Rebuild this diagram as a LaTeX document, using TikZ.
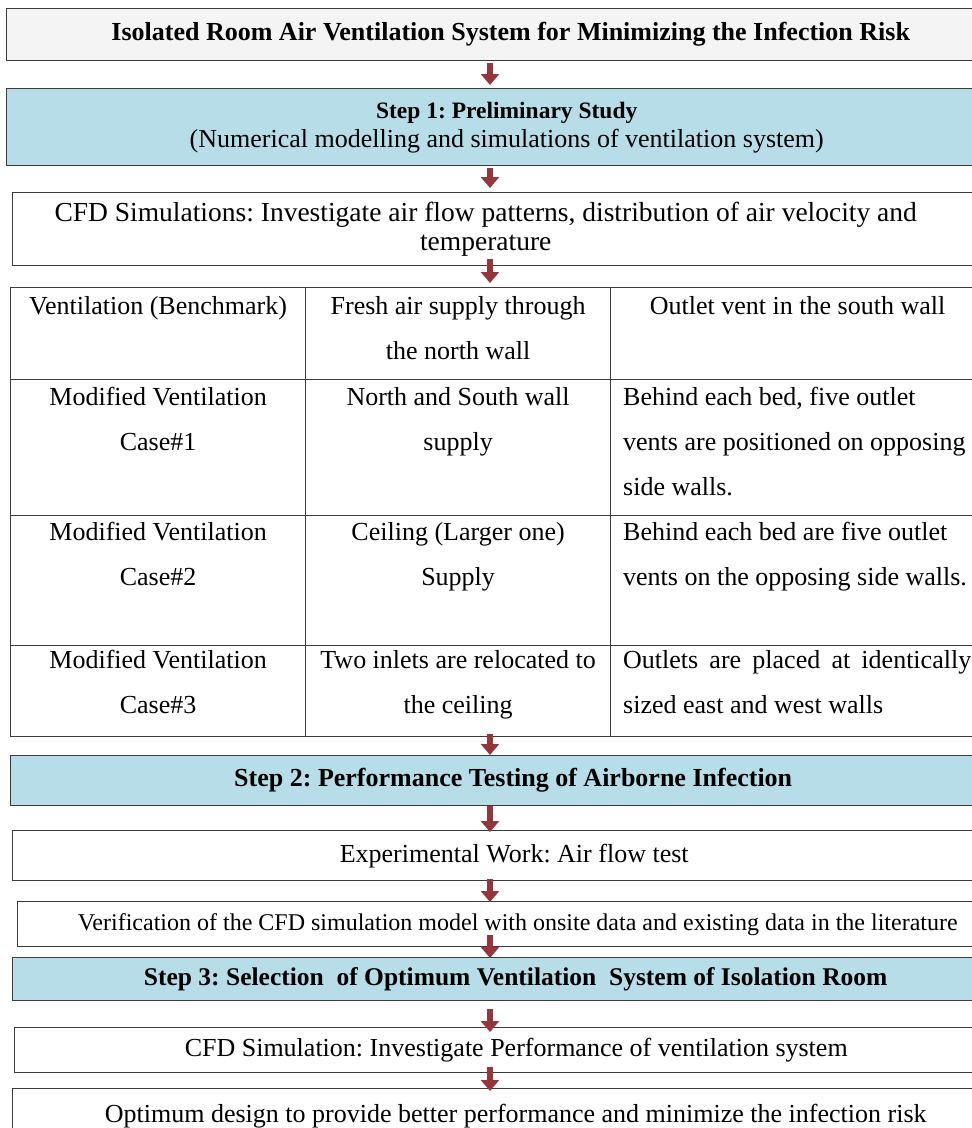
\documentclass[tikz,border=0pt]{standalone}
\usepackage{fontspec}
\setmainfont{Liberation Serif}
\usetikzlibrary{arrows.meta,positioning}
\frenchspacing

\definecolor{stepblue}{RGB}{183,221,232}
\definecolor{arrowred}{RGB}{149,55,58}
\definecolor{titlegray}{RGB}{244,244,244}
\definecolor{edgegray}{RGB}{60,60,60}

\begin{document}
\begin{tikzpicture}[x=1pt, y=-1pt,
    box/.style={draw=edgegray, line width=1.4pt, anchor=north west, inner sep=0pt, align=center, font=\fontsize{26}{29}\selectfont},
    stepbox/.style={box, fill=stepblue, font=\bfseries\fontsize{26}{29}\selectfont},
    cell/.style={draw=edgegray, line width=1.2pt, anchor=north west, inner sep=0pt},
    celltext/.style={anchor=north, inner sep=0pt, align=center, font=\fontsize{26}{45}\selectfont},
    arrow/.style={-{Triangle[width=18pt,length=11pt]}, line width=6.5pt, draw=arrowred}
]
\useasboundingbox (0,0) rectangle (972,1128);

% column of the arrows
\coordinate (ax) at (490,0);

% Title
\node[box, fill=titlegray, font=\bfseries\fontsize{26}{29}\selectfont, minimum width=1008pt, minimum height=52pt] (title) at (6,8) {Isolated Room Air Ventilation System for Minimizing the Infection Risk};

% Step 1
\node[stepbox, minimum width=1000pt, minimum height=77pt] (step1) at (6,88) {{\fontsize{23.5}{29}\selectfont Step 1: Preliminary Study}\\ \mdseries (Numerical modelling and simulations of ventilation system)};
\node[box, minimum width=1000pt, minimum height=73pt] (cfd) at (12,192) {};
\node[align=center, inner sep=0pt, font=\fontsize{27.5}{29}\selectfont] (cfdtext) at ([xshift=-27pt]cfd.center) {CFD Simulations: Investigate air flow patterns, distribution of air velocity and\\ temperature};

% Table of cases
\node[cell, minimum width=295pt, minimum height=92pt] (c11) at (10,287) {};
\node[cell, minimum width=305pt, minimum height=92pt] (c12) at (305,287) {};
\node[cell, minimum width=380pt, minimum height=92pt] (c13) at (610,287) {};
\node[cell, minimum width=295pt, minimum height=136pt] (c21) at (10,379) {};
\node[cell, minimum width=305pt, minimum height=136pt] (c22) at (305,379) {};
\node[cell, minimum width=380pt, minimum height=136pt] (c23) at (610,379) {};
\node[cell, minimum width=295pt, minimum height=130pt] (c31) at (10,515) {};
\node[cell, minimum width=305pt, minimum height=130pt] (c32) at (305,515) {};
\node[cell, minimum width=380pt, minimum height=130pt] (c33) at (610,515) {};
\node[cell, minimum width=295pt, minimum height=91pt] (c41) at (10,645) {};
\node[cell, minimum width=305pt, minimum height=91pt] (c42) at (305,645) {};
\node[cell, minimum width=380pt, minimum height=91pt] (c43) at (610,645) {};

\node[celltext] (t11) at ([yshift=-9pt]c11.north) {Ventilation (Benchmark)};
\node[celltext] (t12) at ([yshift=-9pt]c12.north) {Fresh air supply through\\ the north wall};
\node[celltext] (t13) at ([xshift=-3pt,yshift=-9pt]c13.north) {Outlet vent in the south wall};
\node[celltext] (t21) at ([yshift=-8pt]c21.north) {Modified Ventilation\\ Case\#1};
\node[celltext] (t22) at ([yshift=-8pt]c22.north) {North and South wall\\ supply};
\node[celltext, anchor=north west, align=left] (t23) at ([xshift=13pt,yshift=-8pt]c23.north west) {Behind each bed, five outlet\\ vents are positioned on opposing\\ side walls.};
\node[celltext] (t31) at ([yshift=-7pt]c31.north) {Modified Ventilation\\ Case\#2};
\node[celltext] (t32) at ([yshift=-7pt]c32.north) {Ceiling (Larger one)\\ Supply};
\node[celltext, anchor=north west, align=left] (t33) at ([xshift=13pt,yshift=-7pt]c33.north west) {Behind each bed are five outlet\\ vents on the opposing side walls.};
\node[celltext] (t41) at ([yshift=-5pt]c41.north) {Modified Ventilation\\ Case\#3};
\node[celltext] (t42) at ([yshift=-5pt]c42.north) {Two inlets are relocated to\\ the ceiling};
\node[celltext, anchor=north west, align=left] (t43) at ([xshift=13pt,yshift=-5pt]c43.north west) {\makebox[348pt][s]{Outlets are placed at identically}\\ sized east and west walls};

% Step 2
\node[stepbox, minimum width=1005pt, minimum height=50pt] (step2) at (10,755) {Step 2: Performance Testing of Airborne Infection};
\node[box, minimum width=1003pt, minimum height=50pt] (exp) at (12,830) {Experimental Work: Air flow test};
\node[box, font=\fontsize{24}{25}\selectfont, minimum width=1000pt, minimum height=45pt] (verif) at (17,901) {Verification of the CFD simulation model with onsite data and existing data in the literature};

% Step 3
\node[stepbox, font=\bfseries\fontsize{25.5}{28}\selectfont, minimum width=1006pt, minimum height=43pt] (step3) at (12,957) {Step 3: Selection\ \ of Optimum Ventilation\ \ System of Isolation Room};
\node[box, minimum width=1003pt, minimum height=45pt] (cfdsim) at (14,1027) {CFD Simulation: Investigate Performance of ventilation system};
\node[box, minimum width=1006pt, minimum height=55pt] (optim) at (12,1088) {Optimum design to provide better performance and minimize the infection risk};

% Arrows
\draw[arrow, shorten <=2pt, shorten >=3pt] (title.south -| ax) -- (step1.north -| ax);
\draw[arrow, shorten <=2pt, shorten >=4pt] (step1.south -| ax) -- (cfd.north -| ax);
\draw[arrow, shorten <=-7pt, shorten >=4pt] (cfd.south -| ax) -- (c12.north -| ax);
\draw[arrow, shorten <=-3pt] (c42.south -| ax) -- (step2.north -| ax);
\draw[arrow, shorten >=-2pt] (step2.south -| ax) -- (exp.north -| ax);
\draw[arrow, shorten <=-2pt, shorten >=-1pt] (exp.south -| ax) -- (verif.north -| ax);
\draw[arrow, shorten <=-12pt, shorten >=-1pt] (verif.south -| ax) -- (step3.north -| ax);
\draw[arrow, shorten <=8pt, shorten >=-5pt] (step3.south -| ax) -- (cfdsim.north -| ax);
\draw[arrow, shorten <=-6pt, shorten >=-3pt] (cfdsim.south -| ax) -- (optim.north -| ax);
\end{tikzpicture}
\end{document}
